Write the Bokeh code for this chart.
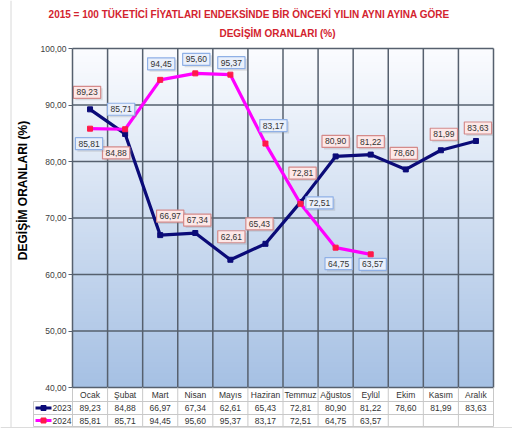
import numpy as np
from bokeh.plotting import figure
from bokeh.models import Range1d, FixedTicker, LinearAxis
from bokeh.core.properties import value
from bokeh.embed import file_html
from bokeh.resources import INLINE

# ---------------- data ----------------
months = ["Ocak", "Şubat", "Mart", "Nisan", "Mayıs", "Haziran", "Temmuz",
          "Ağustos", "Eylül", "Ekim", "Kasım", "Aralık"]
v2023 = [89.23, 84.88, 66.97, 67.34, 62.61, 65.43, 72.81, 80.90, 81.22, 78.60, 81.99, 83.63]
v2024 = [85.81, 85.71, 94.45, 95.60, 95.37, 83.17, 72.51, 64.75, 63.57]
series_names = ["2023", "2024"]
y_ticks = [40, 50, 60, 70, 80, 90, 100]

title1 = "2015 = 100 TÜKETİCİ FİYATLARI ENDEKSİNDE BİR ÖNCEKİ YILIN AYNI AYINA GÖRE"
title2 = "DEGİŞİM ORANLARI (%)"
ylabel = "DEGİŞİM ORANLARI (%)"

# label placement offsets in screen px (style only; +dy = down)
off23_dx = [-3, -9, 10, 2, 1, -6, 2, 0, 0, -2, 3, 2]
off23_dy = [-17, 19, -19, -13, -23, -20, -29, -15, -13, -16, -16, -13]
off24_dx = [-1, -4, 1, 1, 1, 8, 19, 3, 2]
off24_dy = [15, -20, -16, -14, -12, -18, -1, 16, 10]


def fmt(v):
    return f"{v:.2f}".replace(".", ",")


FONT = "Liberation Sans"
C23 = "#0b0b78"
C24 = "#ff00ff"
M24 = "#ff1a4a"
GRID = "#56606e"
TB = "#c8c8c8"
TXT = "#333333"

n = len(months)
x23 = list(range(len(v2023)))
x24 = list(range(len(v2024)))

# pixel geometry (style): plot box 72..493 x 48..387 on the page
KX = 421 / n            # px per category
KY = (387 - 48) / 60.0  # px per y unit
W, H = 512, 428
XS = -0.5 - 72 / KX
XE = XS + W / KX
YE = 100 + 48 / KY
YS = YE - H / KY


def X(px):
    return XS + px / KX


def Y(py):
    return YE - py / KY


p = figure(width=W, height=H, output_backend="svg", toolbar_location=None,
           x_range=Range1d(XS, XE), y_range=Range1d(YS, YE),
           x_axis_location=None, y_axis_location=None,
           min_border=0)
p.background_fill_color = "white"
p.border_fill_color = "white"
p.outline_line_color = None
p.grid.visible = False

# gradient background of plot area
N = 120
top = np.array([251, 252, 255], dtype=float)
bot = np.array([166, 193, 228], dtype=float)
img = np.zeros((N, 1), dtype=np.uint32)
view = img.view(dtype=np.uint8).reshape((N, 1, 4))
for i in range(N):
    t = i / (N - 1)
    c = bot + (top - bot) * t
    view[i, 0, 0] = int(c[0]); view[i, 0, 1] = int(c[1]); view[i, 0, 2] = int(c[2]); view[i, 0, 3] = 255
p.image_rgba(image=[img], x=-0.5, y=y_ticks[0], dw=n, dh=y_ticks[-1] - y_ticks[0], level="image")

# grid lines and plot border
p.segment(x0=[-0.5] * len(y_ticks), y0=y_ticks, x1=[n - 0.5] * len(y_ticks), y1=y_ticks,
          line_color=GRID, line_width=1.5)
bx = [i + 0.5 for i in range(n)]
p.segment(x0=bx, y0=[y_ticks[0]] * n, x1=bx, y1=[y_ticks[-1]] * n, line_color=GRID, line_width=1.5)

# y axis at the plot's left edge
yaxis = LinearAxis(ticker=FixedTicker(ticks=y_ticks), fixed_location=-0.5,
                   bounds=(y_ticks[0], y_ticks[-1]),
                   major_label_overrides={t: fmt(t) for t in y_ticks})
yaxis.axis_line_color = GRID
yaxis.axis_line_width = 1.5
yaxis.major_tick_line_color = GRID
yaxis.major_tick_out = 4
yaxis.major_tick_in = 0
yaxis.minor_tick_line_color = None
yaxis.major_label_standoff = 2
yaxis.major_label_text_font = FONT
yaxis.major_label_text_font_size = "8.5px"
yaxis.major_label_text_color = "#404040"
p.add_layout(yaxis, "left")

# titles
p.text([X(249)], [Y(14)], text=[title1], text_font=value(FONT), text_font_size="10px",
       text_font_style="bold", text_color="#d3232e", text_align="center", text_baseline="middle")
p.text([X(277)], [Y(33)], text=[title2], text_font=value(FONT), text_font_size="10px",
       text_font_style="bold", text_color="#d3232e", text_align="center", text_baseline="middle")
p.text([X(22)], [Y(190)], text=[ylabel], angle=np.pi / 2, text_font=value(FONT),
       text_font_size="12px", text_font_style="bold", text_color="black",
       text_align="center", text_baseline="middle")

# chart frame left edge
p.segment(x0=[X(10.5)], y0=[YS], x1=[X(10.5)], y1=[YE], line_color="#d8d8d8", line_width=1)

# series
p.line(x23, v2023, line_color=C23, line_width=3.2)
p.scatter(x23, v2023, marker="square", size=5, fill_color=C23, line_color=C23)
p.line(x24, v2024, line_color=C24, line_width=3.2)
p.scatter(x24, v2024, marker="square", size=5, fill_color=M24, line_color=M24)


def labels(xs, ys, dx, dy, fill, border):
    texts = [fmt(v) for v in ys]
    p.text(xs, ys, text=texts, x_offset=[a + 2 for a in dx], y_offset=[b + 2 for b in dy],
           text_alpha=0, text_font=value(FONT), text_font_size="8.5px",
           text_align="center", text_baseline="middle",
           background_fill_color="#7f7f7f", background_fill_alpha=0.22, padding=3)
    p.text(xs, ys, text=texts, x_offset=dx, y_offset=dy,
           text_color=TXT, text_font=value(FONT), text_font_size="8.5px",
           text_align="center", text_baseline="middle",
           background_fill_color=fill, border_line_color=border, border_line_width=1.2,
           padding=3)


labels(x23, v2023, off23_dx, off23_dy, "#fde8e8", "#d48a8a")
labels(x24, v2024, off24_dx, off24_dy, "#eaf0fb", "#8fb0e6")

# ---------------- data table under the plot ----------------
ROW_LINES = [401, 414]
ROW_MID = [394, 407.5, 420]
bounds = [i - 0.5 for i in range(n + 1)]
p.segment(x0=bounds, y0=[Y(426)] * len(bounds), x1=bounds, y1=[y_ticks[0]] * len(bounds),
          line_color=TB, line_width=1)
p.segment(x0=[X(33)] * 3, y0=[Y(r) for r in ROW_LINES + [426]], x1=[n - 0.5] * 3,
          y1=[Y(r) for r in ROW_LINES + [426]], line_color=TB, line_width=1)
p.segment(x0=[X(33)], y0=[Y(ROW_LINES[0])], x1=[X(33)], y1=[Y(426)], line_color=TB, line_width=1)

p.text(list(range(n)), [Y(ROW_MID[0])] * n, text=months, text_font=value(FONT),
       text_font_size="8.5px", text_color=TXT, text_align="center", text_baseline="middle")
p.text(x23, [Y(ROW_MID[1])] * len(x23), text=[fmt(v) for v in v2023], text_font=value(FONT),
       text_font_size="8.5px", text_color=TXT, text_align="center", text_baseline="middle")
p.text(x24, [Y(ROW_MID[2])] * len(x24), text=[fmt(v) for v in v2024], text_font=value(FONT),
       text_font_size="8.5px", text_color=TXT, text_align="center", text_baseline="middle")

for row_py, col, mcol, name in [(ROW_MID[1], C23, C23, series_names[0]),
                                (ROW_MID[2], C24, M24, series_names[1])]:
    p.line([X(35), X(51)], [Y(row_py)] * 2, line_color=col, line_width=3.2)
    p.scatter([X(43)], [Y(row_py)], marker="square", size=5, fill_color=mcol, line_color=mcol)
    p.text([X(71)], [Y(row_py)], text=[name], text_font=value(FONT), text_font_size="8.5px",
           text_color=TXT, text_align="right", text_baseline="middle")

p.quad(left=[XS], right=[XE], top=[Y(426.5)], bottom=[YS], fill_color="#dcdcdc", line_color=None)

open("out.html", "w").write(file_html(p, INLINE))
